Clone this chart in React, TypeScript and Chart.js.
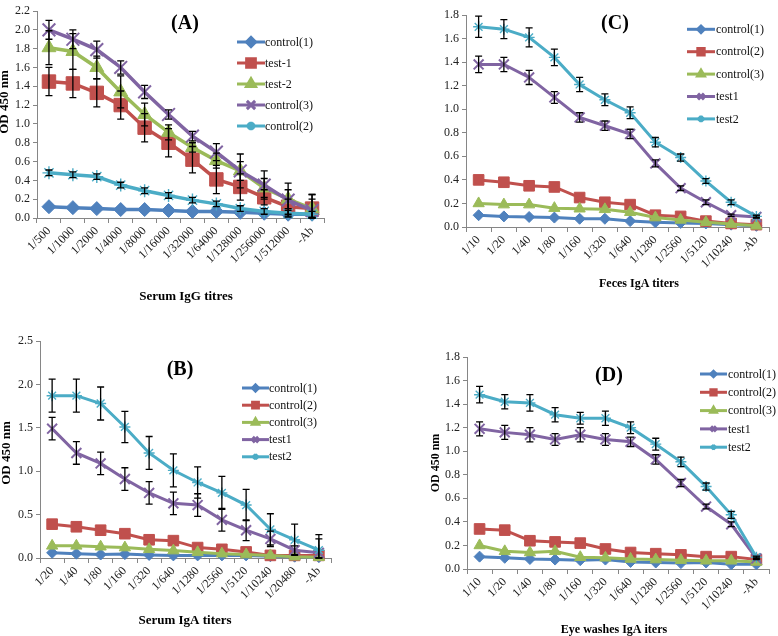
import React, { useEffect, useRef } from 'react';
import { Chart, registerables } from 'chart.js';
import { drawPoint } from 'chart.js/helpers';

Chart.register(...registerables);

const FONT = "'Liberation Serif', 'Times New Roman', serif";
const AXIS = '#868686';
const BLUE = '#4F81BD';
const RED = '#C0504D';
const GREEN = '#9BBB59';
const PURPLE = '#8064A2';
const CYAN = '#4BACC6';

// ---------- Panel A: Serum IgG titres ----------
const catsA = ['1/500', '1/1000', '1/2000', '1/4000', '1/8000', '1/16000', '1/32000', '1/64000', '1/128000', '1/256000', '1/512000', '-Ab'];
const aControl1 = [0.12, 0.11, 0.10, 0.09, 0.09, 0.08, 0.07, 0.07, 0.06, 0.05, 0.04, 0.04];
const aTest1 = [1.45, 1.43, 1.33, 1.20, 0.96, 0.80, 0.62, 0.41, 0.33, 0.22, 0.12, 0.10];
const aTest2 = [1.81, 1.77, 1.60, 1.34, 1.10, 0.91, 0.75, 0.61, 0.50, 0.32, 0.20, 0.10];
const aControl3 = [2.00, 1.90, 1.79, 1.60, 1.34, 1.10, 0.87, 0.70, 0.50, 0.35, 0.19, 0.08];
const aControl2 = [0.48, 0.46, 0.44, 0.35, 0.29, 0.24, 0.19, 0.15, 0.10, 0.07, 0.05, 0.04];
const aTest1Err = [0.15, 0.15, 0.15, 0.15, 0.15, 0.15, 0.14, 0.15, 0.14, 0.08, 0.08, 0.15];
const aTest2Err = [0.18, 0.19, 0.12, 0.17, 0.12, 0.08, 0.05, 0.08, 0.10, 0.10, 0.10, 0.10];
const aControl3Err = [0.10, 0.10, 0.09, 0.07, 0.07, 0.05, 0.05, 0.09, 0.18, 0.15, 0.18, 0.17];
const aControl2Err = [0.03, 0.03, 0.03, 0.03, 0.03, 0.03, 0.03, 0.03, 0.03, 0.03, 0.03, 0.03];

// ---------- Panel B: Serum IgA titers ----------
const catsB = ['1/20', '1/40', '1/80', '1/160', '1/320', '1/640', '1/1280', '1/2560', '1/5120', '1/10240', '1/20480', '-Ab'];
const bControl1 = [0.06, 0.05, 0.04, 0.045, 0.035, 0.03, 0.03, 0.03, 0.03, 0.02, 0.015, 0.01];
const bControl2 = [0.39, 0.36, 0.32, 0.28, 0.21, 0.20, 0.12, 0.10, 0.07, 0.03, 0.03, 0.03];
const bControl3 = [0.14, 0.14, 0.13, 0.12, 0.10, 0.085, 0.065, 0.05, 0.04, 0.03, 0.015, 0.01];
const bTest1 = [1.49, 1.21, 1.09, 0.91, 0.75, 0.63, 0.61, 0.44, 0.32, 0.22, 0.09, 0.06];
const bTest2 = [1.87, 1.87, 1.78, 1.51, 1.21, 1.01, 0.87, 0.75, 0.61, 0.33, 0.21, 0.09];
const bTest1Err = [0.13, 0.13, 0.13, 0.13, 0.13, 0.13, 0.13, 0.13, 0.12, 0.09, 0.05, 0.16];
const bTest2Err = [0.19, 0.19, 0.19, 0.18, 0.19, 0.19, 0.18, 0.19, 0.18, 0.18, 0.18, 0.18];

// ---------- Panel C: Feces IgA titers ----------
const catsC = ['1/10', '1/20', '1/40', '1/80', '1/160', '1/320', '1/640', '1/1280', '1/2560', '1/5120', '1/10240', '-Ab'];
const cControl1 = [0.10, 0.09, 0.085, 0.08, 0.07, 0.07, 0.05, 0.04, 0.035, 0.03, 0.02, 0.01];
const cControl2 = [0.40, 0.38, 0.35, 0.34, 0.25, 0.21, 0.19, 0.10, 0.09, 0.05, 0.03, 0.02];
const cControl3 = [0.20, 0.19, 0.19, 0.16, 0.155, 0.15, 0.125, 0.08, 0.06, 0.04, 0.025, 0.01];
const cTest1 = [1.38, 1.38, 1.27, 1.10, 0.93, 0.86, 0.79, 0.54, 0.33, 0.21, 0.10, 0.085];
const cTest2 = [1.70, 1.68, 1.61, 1.44, 1.21, 1.08, 0.97, 0.72, 0.59, 0.39, 0.21, 0.09];
const cTest1Err = [0.07, 0.06, 0.06, 0.05, 0.04, 0.04, 0.04, 0.03, 0.02, 0.02, 0.01, 0.01];
const cTest2Err = [0.09, 0.08, 0.08, 0.07, 0.06, 0.05, 0.05, 0.04, 0.03, 0.02, 0.02, 0.01];

// ---------- Panel D: Eye washes IgA titers ----------
const catsD = ['1/10', '1/20', '1/40', '1/80', '1/160', '1/320', '1/640', '1/1280', '1/2560', '1/5120', '1/10240', '-Ab'];
const dControl1 = [0.105, 0.095, 0.085, 0.08, 0.075, 0.08, 0.06, 0.055, 0.05, 0.055, 0.04, 0.04];
const dControl2 = [0.34, 0.33, 0.24, 0.23, 0.22, 0.17, 0.14, 0.13, 0.12, 0.105, 0.105, 0.08];
const dControl3 = [0.20, 0.15, 0.14, 0.15, 0.10, 0.095, 0.085, 0.08, 0.075, 0.07, 0.07, 0.06];
const dTest1 = [1.19, 1.16, 1.14, 1.10, 1.14, 1.10, 1.08, 0.93, 0.73, 0.53, 0.38, 0.09];
const dTest2 = [1.48, 1.42, 1.41, 1.31, 1.28, 1.28, 1.20, 1.06, 0.91, 0.70, 0.46, 0.10];
const dTest1Err = [0.06, 0.06, 0.06, 0.05, 0.06, 0.05, 0.04, 0.04, 0.03, 0.02, 0.02, 0.01];
const dTest2Err = [0.07, 0.06, 0.07, 0.06, 0.05, 0.06, 0.05, 0.05, 0.04, 0.03, 0.03, 0.01];

type Series = { label: string; color: string; style: string; r: number; data: number[]; err?: number[] };
type Txt = { text: string; x: number; y: number; size: number };
type Panel = {
  key: string; left: number; top: number; w: number; h: number;
  area: { l: number; r: number; t: number; b: number };
  cats: string[]; yMax: number; yStep: number; lineW: number;
  series: Series[];
  title: Txt; yTitle?: Txt; xTitle: Txt;
  legend: { x: number; len: number; textX: number; y0: number; dy: number; size: number; mk: number };
};

const small = { diamond: 5.5, square: 7.5, tri: 6.5, x: 7, star: 5.5 };
const big = { diamond: 7, square: 9.5, tri: 8, x: 9, star: 6.5 };

const PANELS: Panel[] = [
  {
    key: 'A', left: 0, top: 0, w: 389, h: 318,
    area: { l: 37, r: 324, t: 4, b: 218 },
    cats: catsA, yMax: 2.2, yStep: 0.2, lineW: 3.5,
    series: [
      { label: 'control(1)', color: BLUE, style: 'rectRot', r: big.diamond, data: aControl1 },
      { label: 'test-1', color: RED, style: 'rect', r: big.square, data: aTest1, err: aTest1Err },
      { label: 'test-2', color: GREEN, style: 'triangle', r: big.tri, data: aTest2, err: aTest2Err },
      { label: 'control(3)', color: PURPLE, style: 'crossRot', r: big.x, data: aControl3, err: aControl3Err },
      { label: 'control(2)', color: CYAN, style: 'star', r: big.star, data: aControl2, err: aControl2Err },
    ],
    title: { text: '(A)', x: 185, y: 24, size: 20 },
    yTitle: { text: 'OD 450 nm', x: 5, y: 102, size: 13 },
    xTitle: { text: 'Serum IgG titres', x: 186, y: 297, size: 13 },
    legend: { x: 237, len: 28, textX: 265, y0: 42, dy: 21, size: 12, mk: 0.65 },
  },
  {
    key: 'B', left: 0, top: 318, w: 389, h: 318,
    area: { l: 40, r: 331, t: 23, b: 240 },
    cats: catsB, yMax: 2.5, yStep: 0.5, lineW: 3,
    series: [
      { label: 'control(1)', color: BLUE, style: 'rectRot', r: small.diamond, data: bControl1 },
      { label: 'control(2)', color: RED, style: 'rect', r: small.square, data: bControl2 },
      { label: 'control(3)', color: GREEN, style: 'triangle', r: small.tri, data: bControl3 },
      { label: 'test1', color: PURPLE, style: 'crossRot', r: small.x, data: bTest1, err: bTest1Err },
      { label: 'test2', color: CYAN, style: 'star', r: small.star, data: bTest2, err: bTest2Err },
    ],
    title: { text: '(B)', x: 180, y: 52, size: 20 },
    yTitle: { text: 'OD 450 nm', x: 7, y: 135, size: 13 },
    xTitle: { text: 'Serum IgA titers', x: 185, y: 303, size: 13 },
    legend: { x: 242, len: 27, textX: 269, y0: 70, dy: 17.2, size: 12, mk: 0.55 },
  },
  {
    key: 'C', left: 389, top: 0, w: 389, h: 318,
    area: { l: 77, r: 388, t: 15, b: 227 },
    cats: catsC, yMax: 1.8, yStep: 0.2, lineW: 3,
    series: [
      { label: 'control(1)', color: BLUE, style: 'rectRot', r: small.diamond, data: cControl1 },
      { label: 'control(2)', color: RED, style: 'rect', r: small.square, data: cControl2 },
      { label: 'control(3)', color: GREEN, style: 'triangle', r: small.tri, data: cControl3 },
      { label: 'test1', color: PURPLE, style: 'crossRot', r: small.x, data: cTest1, err: cTest1Err },
      { label: 'test2', color: CYAN, style: 'star', r: small.star, data: cTest2, err: cTest2Err },
    ],
    title: { text: '(C)', x: 226, y: 24, size: 20 },
    xTitle: { text: 'Feces IgA titers', x: 250, y: 284, size: 12 },
    legend: { x: 298, len: 28, textX: 327, y0: 29.3, dy: 22.4, size: 12, mk: 0.6 },
  },
  {
    key: 'D', left: 389, top: 318, w: 389, h: 318,
    area: { l: 78, r: 388, t: 39, b: 251 },
    cats: catsD, yMax: 1.8, yStep: 0.2, lineW: 3,
    series: [
      { label: 'control(1)', color: BLUE, style: 'rectRot', r: small.diamond, data: dControl1 },
      { label: 'control(2)', color: RED, style: 'rect', r: small.square, data: dControl2 },
      { label: 'control(3)', color: GREEN, style: 'triangle', r: small.tri, data: dControl3 },
      { label: 'test1', color: PURPLE, style: 'crossRot', r: small.x, data: dTest1, err: dTest1Err },
      { label: 'test2', color: CYAN, style: 'star', r: small.star, data: dTest2, err: dTest2Err },
    ],
    title: { text: '(D)', x: 220, y: 58, size: 20 },
    yTitle: { text: 'OD 450 nm', x: 47, y: 145, size: 12 },
    xTitle: { text: 'Eye washes IgA iters', x: 225, y: 312, size: 12 },
    legend: { x: 311, len: 27, textX: 339, y0: 56, dy: 18.3, size: 12, mk: 0.5 },
  },
];

const markerBorder = (style: string) => (style === 'crossRot' ? 2 : style === 'star' ? 1.4 : 1);

const overlayPlugin = {
  id: 'overlay',
  afterDatasetsDraw(chart: any, _args: any, opts: any) {
    const p: Panel = opts.panel;
    if (!p) return;
    const ctx = chart.ctx;
    const xs = chart.scales.x;
    const ys = chart.scales.y;
    ctx.save();
    ctx.strokeStyle = '#000';
    ctx.lineWidth = 1.3;
    p.series.forEach((s) => {
      if (!s.err) return;
      s.data.forEach((v, i) => {
        const e = s.err![i];
        const px = xs.getPixelForValue(i);
        const t = ys.getPixelForValue(v + e);
        const b = ys.getPixelForValue(Math.max(0, v - e));
        ctx.beginPath();
        ctx.moveTo(px, t); ctx.lineTo(px, b);
        ctx.moveTo(px - 3.5, t); ctx.lineTo(px + 3.5, t);
        ctx.moveTo(px - 3.5, b); ctx.lineTo(px + 3.5, b);
        ctx.stroke();
      });
    });
    ctx.restore();
  },
  afterDraw(chart: any, _args: any, opts: any) {
    const p: Panel = opts.panel;
    if (!p) return;
    const ctx = chart.ctx;
    ctx.save();
    ctx.fillStyle = '#000';
    ctx.textAlign = 'center';
    ctx.textBaseline = 'middle';
    ctx.font = `bold ${p.title.size}px ${FONT}`;
    ctx.fillText(p.title.text, p.title.x, p.title.y);
    ctx.font = `bold ${p.xTitle.size}px ${FONT}`;
    ctx.fillText(p.xTitle.text, p.xTitle.x, p.xTitle.y);
    if (p.yTitle) {
      ctx.save();
      ctx.translate(p.yTitle.x, p.yTitle.y);
      ctx.rotate(-Math.PI / 2);
      ctx.font = `bold ${p.yTitle.size}px ${FONT}`;
      ctx.fillText(p.yTitle.text, 0, 0);
      ctx.restore();
    }
    const L = p.legend;
    p.series.forEach((s, i) => {
      const y = L.y0 + i * L.dy;
      ctx.strokeStyle = s.color;
      ctx.fillStyle = s.color;
      ctx.lineWidth = 3;
      ctx.beginPath();
      ctx.moveTo(L.x, y);
      ctx.lineTo(L.x + L.len, y);
      ctx.stroke();
      drawPoint(ctx, { pointStyle: s.style as any, rotation: 0, radius: s.r * L.mk, borderWidth: Math.min(1.5, markerBorder(s.style)) }, L.x + L.len / 2, y);
      ctx.fillStyle = '#111';
      ctx.textAlign = 'left';
      ctx.font = `${L.size}px ${FONT}`;
      ctx.fillText(s.label, L.textX, y + 0.5);
    });
    ctx.restore();
  },
};

function PanelChart({ p }: { p: Panel }) {
  const ref = useRef<HTMLCanvasElement>(null);
  useEffect(() => {
    const n = p.series.length;
    const chart = new Chart(ref.current as HTMLCanvasElement, {
      type: 'line',
      data: {
        labels: p.cats,
        datasets: p.series.map((s, i) => ({
          label: s.label,
          data: s.data,
          borderColor: s.color,
          backgroundColor: s.color,
          borderWidth: p.lineW,
          pointStyle: s.style as any,
          pointRadius: s.r,
          pointBorderWidth: markerBorder(s.style),
          pointBackgroundColor: s.color,
          pointBorderColor: s.color,
          tension: 0,
          clip: false as any,
          order: n - i,
        })),
      },
      options: {
        responsive: false,
        animation: false,
        devicePixelRatio: 1,
        events: [],
        layout: { padding: { left: 0, top: p.area.t, right: p.w - p.area.r, bottom: 0 } },
        plugins: {
          legend: { display: false },
          tooltip: { enabled: false },
          title: { display: false },
          overlay: { panel: p },
        } as any,
        scales: {
          x: {
            type: 'category',
            offset: true,
            grid: { offset: true, drawOnChartArea: false, drawTicks: true, tickLength: 5, color: AXIS },
            border: { color: AXIS, width: 1 },
            ticks: {
              autoSkip: false, minRotation: 45, maxRotation: 45, padding: 1, color: '#222',
              font: { family: FONT, size: 12 },
            },
            afterFit: (s: any) => {
              s.height = p.h - p.area.b;
              s.paddingLeft = 0; s.paddingRight = 0; s.paddingTop = 0; s.paddingBottom = 0;
            },
          },
          y: {
            type: 'linear',
            min: 0,
            max: p.yMax,
            grid: { drawOnChartArea: false, drawTicks: true, tickLength: 4, color: AXIS },
            border: { color: AXIS, width: 1 },
            ticks: {
              stepSize: p.yStep, padding: 3, color: '#222',
              font: { family: FONT, size: 12 },
              callback: (v: any) => Number(v).toFixed(1),
            },
            afterFit: (s: any) => {
              s.width = p.area.l;
              s.paddingLeft = 0; s.paddingRight = 0; s.paddingTop = 0; s.paddingBottom = 0;
            },
          },
        } as any,
      },
      plugins: [overlayPlugin],
    });
    return () => chart.destroy();
  }, [p]);
  return (
    <canvas
      ref={ref}
      width={p.w}
      height={p.h}
      style={{ position: 'absolute', left: p.left, top: p.top, width: p.w, height: p.h }}
    />
  );
}

export default function App() {
  return (
    <div style={{ position: 'absolute', left: 0, top: 0, width: 778, height: 636, background: '#fff' }}>
      {PANELS.map((p) => (
        <PanelChart key={p.key} p={p} />
      ))}
    </div>
  );
}
